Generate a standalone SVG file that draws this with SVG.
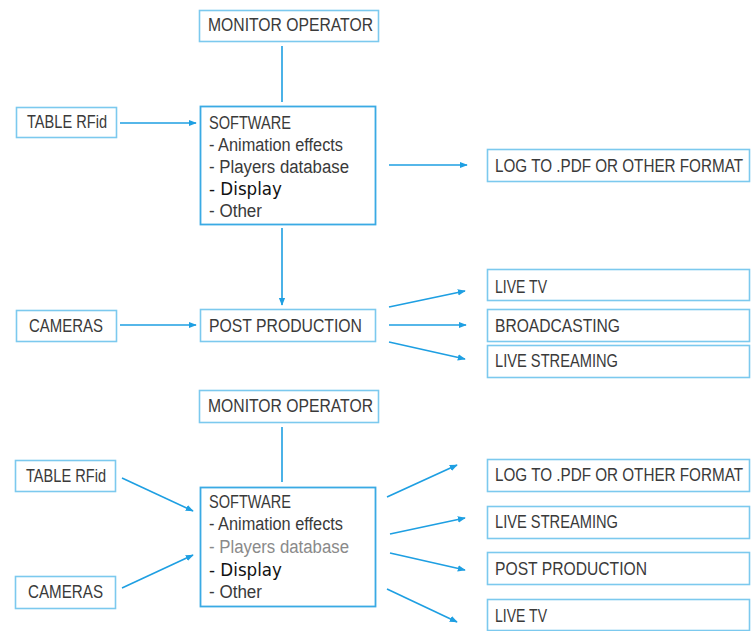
<svg xmlns="http://www.w3.org/2000/svg" width="751" height="631" viewBox="0 0 751 631">
<style>
.box{fill:#fff;stroke:#7cc9ee;stroke-width:1.6}
.sw{fill:#fff;stroke:#3aaae4;stroke-width:1.8}
.t{font-family:"Liberation Sans","DejaVu Sans",sans-serif;font-size:18px;fill:#3a3a3a}
.d{font-family:"DejaVu Sans",sans-serif;font-size:17px;fill:#111}
.g{fill:#8a8a8a}
.c{stroke:#1e9fe2;stroke-width:1.6;fill:none}
</style>
<defs>
<marker id="ah2" viewBox="0 0 10 10" refX="9" refY="5" markerWidth="8" markerHeight="8" markerUnits="userSpaceOnUse" orient="auto">
<path d="M0,1 L10,5 L0,9 z" fill="#1e9fe2"/>
</marker>
</defs>

<g id="connectors">
<line class="c" x1="282" y1="46" x2="282" y2="102"/>
<line class="c" x1="120" y1="123" x2="196" y2="123" marker-end="url(#ah2)"/>
<line class="c" x1="389" y1="165" x2="467" y2="165" marker-end="url(#ah2)"/>
<line class="c" x1="282" y1="228" x2="282" y2="305" marker-end="url(#ah2)"/>
<line class="c" x1="120" y1="325" x2="196" y2="325" marker-end="url(#ah2)"/>
<line class="c" x1="389" y1="307" x2="465" y2="291" marker-end="url(#ah2)"/>
<line class="c" x1="389" y1="325" x2="466" y2="325" marker-end="url(#ah2)"/>
<line class="c" x1="389" y1="342" x2="465" y2="359" marker-end="url(#ah2)"/>
<line class="c" x1="282" y1="427" x2="282" y2="482"/>
<line class="c" x1="122" y1="478" x2="193" y2="511" marker-end="url(#ah2)"/>
<line class="c" x1="122" y1="588" x2="193" y2="555" marker-end="url(#ah2)"/>
<line class="c" x1="387" y1="497" x2="457" y2="465" marker-end="url(#ah2)"/>
<line class="c" x1="390" y1="534" x2="465" y2="518" marker-end="url(#ah2)"/>
<line class="c" x1="390" y1="553" x2="465" y2="570" marker-end="url(#ah2)"/>
<line class="c" x1="387" y1="589" x2="457" y2="622" marker-end="url(#ah2)"/>
</g>

<g id="monitor1"><rect class="box" x="199.5" y="10.5" width="179" height="31"/><text class="t" x="208" y="31" textLength="165" lengthAdjust="spacingAndGlyphs">MONITOR OPERATOR</text></g>
<g id="table1"><rect class="box" x="16.5" y="107.5" width="100" height="30"/><text class="t" x="27" y="128" textLength="80" lengthAdjust="spacingAndGlyphs">TABLE RFid</text></g>
<g id="software1"><rect class="sw" x="200.5" y="106.5" width="175" height="118"/>
<text class="t" x="209" y="129" textLength="82" lengthAdjust="spacingAndGlyphs">SOFTWARE</text>
<text class="t" x="209" y="151" textLength="134" lengthAdjust="spacingAndGlyphs">- Animation effects</text>
<text class="t" x="209" y="173" textLength="140" lengthAdjust="spacingAndGlyphs">- Players database</text>
<text class="d" x="209" y="195" textLength="73" lengthAdjust="spacingAndGlyphs">- Display</text>
<text class="t" x="209" y="217" textLength="53" lengthAdjust="spacingAndGlyphs">- Other</text></g>
<g id="log1"><rect class="box" x="487.5" y="149.5" width="262" height="32"/><text class="t" x="495" y="172" textLength="248" lengthAdjust="spacingAndGlyphs">LOG TO .PDF OR OTHER FORMAT</text></g>
<g id="cameras1"><rect class="box" x="16.5" y="310.5" width="100" height="31"/><text class="t" x="29" y="332" textLength="74" lengthAdjust="spacingAndGlyphs">CAMERAS</text></g>
<g id="post1"><rect class="box" x="200.5" y="309.5" width="175" height="32"/><text class="t" x="209" y="332" textLength="153" lengthAdjust="spacingAndGlyphs">POST PRODUCTION</text></g>
<g id="livetv1"><rect class="box" x="487.5" y="269.5" width="262" height="31"/><text class="t" x="495" y="293" textLength="52" lengthAdjust="spacingAndGlyphs">LIVE TV</text></g>
<g id="broadcasting1"><rect class="box" x="487.5" y="309.5" width="262" height="32"/><text class="t" x="495" y="332" textLength="125" lengthAdjust="spacingAndGlyphs">BROADCASTING</text></g>
<g id="livestreaming1"><rect class="box" x="487.5" y="345.5" width="262" height="32"/><text class="t" x="495" y="367" textLength="123" lengthAdjust="spacingAndGlyphs">LIVE STREAMING</text></g>

<g id="monitor2"><rect class="box" x="199.5" y="390.5" width="179" height="32"/><text class="t" x="208" y="412" textLength="165" lengthAdjust="spacingAndGlyphs">MONITOR OPERATOR</text></g>
<g id="table2"><rect class="box" x="15.5" y="460.5" width="100" height="31"/><text class="t" x="26" y="482" textLength="80" lengthAdjust="spacingAndGlyphs">TABLE RFid</text></g>
<g id="cameras2"><rect class="box" x="15.5" y="576.5" width="100" height="32"/><text class="t" x="28" y="598" textLength="75" lengthAdjust="spacingAndGlyphs">CAMERAS</text></g>
<g id="software2"><rect class="sw" x="200.5" y="487.5" width="175" height="119"/>
<text class="t" x="209" y="508" textLength="82" lengthAdjust="spacingAndGlyphs">SOFTWARE</text>
<text class="t" x="209" y="530" textLength="134" lengthAdjust="spacingAndGlyphs">- Animation effects</text>
<text class="t g" x="209" y="553" textLength="140" lengthAdjust="spacingAndGlyphs">- Players database</text>
<text class="d" x="209" y="576" textLength="73" lengthAdjust="spacingAndGlyphs">- Display</text>
<text class="t" x="209" y="598" textLength="53" lengthAdjust="spacingAndGlyphs">- Other</text></g>
<g id="log2"><rect class="box" x="487.5" y="459.5" width="262" height="32"/><text class="t" x="495" y="481" textLength="248" lengthAdjust="spacingAndGlyphs">LOG TO .PDF OR OTHER FORMAT</text></g>
<g id="livestreaming2"><rect class="box" x="487.5" y="506.5" width="262" height="32"/><text class="t" x="495" y="528" textLength="123" lengthAdjust="spacingAndGlyphs">LIVE STREAMING</text></g>
<g id="post2"><rect class="box" x="487.5" y="552.5" width="262" height="32"/><text class="t" x="495" y="575" textLength="152" lengthAdjust="spacingAndGlyphs">POST PRODUCTION</text></g>
<g id="livetv2"><rect class="box" x="487.5" y="599.5" width="262" height="31"/><text class="t" x="495" y="622" textLength="52" lengthAdjust="spacingAndGlyphs">LIVE TV</text></g>
</svg>
